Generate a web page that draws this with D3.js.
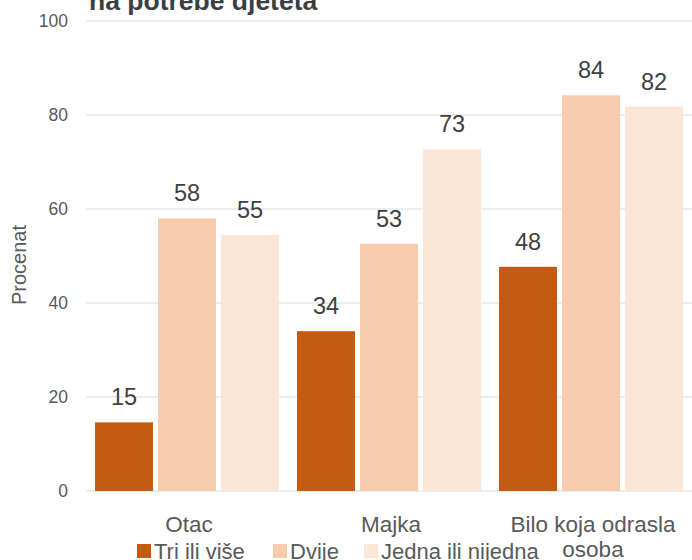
<!DOCTYPE html>
<html>
<head>
<meta charset="utf-8">
<script src="https://cdn.jsdelivr.net/npm/d3@7"></script>
<style>
  html, body { margin: 0; padding: 0; background: #fff; }
  svg { display: block; font-family: "Liberation Sans Narrow", "Liberation Sans", Arial, sans-serif; }
</style>
</head>
<body>
<div id="chart"></div>
<script>
// data
const categories = ['Otac', 'Majka', 'Bilo koja odrasla osoba'];
const seriesNames = ['Tri ili više', 'Dvije', 'Jedna ili nijedna'];
const triIliVise = [14.6, 34.0, 47.7];
const dvije = [58.0, 52.6, 84.2];
const jednaIliNijedna = [54.5, 72.7, 81.8];
const yTicks = [0, 20, 40, 60, 80, 100];
const colors = ['#C55A11', '#F8CBAD', '#FBE5D6'];

const W = 692, H = 560;
const margin = { top: 21, right: 0, bottom: 69, left: 86 };

const table = categories.map((c, i) => ({
  cat: c,
  vals: [triIliVise[i], dvije[i], jednaIliNijedna[i]]
}));

const svg = d3.select('#chart').append('svg')
  .attr('width', W).attr('height', H);

const x0 = d3.scaleBand().domain(categories)
  .range([margin.left, W - margin.right])
  .paddingInner(0).paddingOuter(0);
const x1 = d3.scaleBand().domain(seriesNames)
  .range([9, x0.bandwidth() - 9])
  .paddingInner(0.08);
const y = d3.scaleLinear().domain([0, 100]).range([H - margin.bottom, margin.top]);

// gridlines
svg.append('g')
  .selectAll('line').data(yTicks).join('line')
  .attr('x1', margin.left).attr('x2', W)
  .attr('y1', d => y(d)).attr('y2', d => y(d))
  .attr('stroke', '#D9D9D9').attr('stroke-width', 1);

// y axis labels
const yAxis = svg.append('g')
  .attr('transform', `translate(${margin.left},0)`)
  .call(d3.axisLeft(y).tickValues(yTicks).tickSize(0).tickPadding(18));
yAxis.select('.domain').remove();
yAxis.selectAll('text')
  .attr('font-family', '"Liberation Sans", Arial, sans-serif')
  .attr('font-size', 17.5).attr('fill', '#595959');

svg.append('text')
  .attr('transform', `translate(26,${(y(0) + y(100)) / 2 + 9}) rotate(-90)`)
  .attr('text-anchor', 'middle')
  .attr('font-family', '"Liberation Sans", Arial, sans-serif')
  .attr('font-size', 20).attr('fill', '#595959')
  .text('Procenat');

// bars
const groups = svg.append('g').selectAll('g').data(table).join('g')
  .attr('transform', d => `translate(${x0(d.cat)},0)`);

groups.selectAll('rect')
  .data(d => d.vals.map((v, j) => ({ key: seriesNames[j], v, j })))
  .join('rect')
  .attr('x', d => x1(d.key))
  .attr('width', x1.bandwidth())
  .attr('y', d => y(d.v))
  .attr('height', d => y(0) - y(d.v))
  .attr('fill', d => colors[d.j]);

groups.selectAll('text.val')
  .data(d => d.vals.map((v, j) => ({ key: seriesNames[j], v, j })))
  .join('text')
  .attr('class', 'val')
  .attr('x', d => x1(d.key) + x1.bandwidth() / 2)
  .attr('y', d => y(d.v) - 17)
  .attr('text-anchor', 'middle')
  .attr('font-family', '"Liberation Sans", Arial, sans-serif')
  .attr('font-size', 23.5).attr('fill', '#404040')
  .text(d => Math.round(d.v));

// x labels, wrapped to band width
const xl = svg.append('g').selectAll('text').data(categories).join('text')
  .attr('x', d => x0(d) + x0.bandwidth() / 2 + 2)
  .attr('y', 532)
  .attr('text-anchor', 'middle')
  .attr('font-size', 22.5).attr('fill', '#595959');
xl.each(function(d) {
  const el = d3.select(this);
  const words = d.split(' ');
  const lines = [];
  let line = [];
  const probe = el.append('tspan');
  words.forEach(w => {
    probe.text([...line, w].join(' '));
    if (line.length && probe.node().getComputedTextLength() > x0.bandwidth() - 20) {
      lines.push(line.join(' '));
      line = [w];
    } else line.push(w);
  });
  lines.push(line.join(' '));
  probe.remove();
  lines.forEach((l, i) => {
    el.append('tspan').attr('x', x0(d) + x0.bandwidth() / 2 + 2)
      .attr('dy', i ? 25 : 0).text(l);
  });
});

// legend
const legendX = [137, 273, 364];
const lg = svg.append('g').selectAll('g').data(seriesNames).join('g')
  .attr('transform', (d, i) => `translate(${legendX[i]},544)`);
lg.append('rect').attr('width', 14).attr('height', 14)
  .attr('fill', (d, i) => colors[i]);
lg.append('text').attr('x', 17).attr('y', 15)
  .attr('font-size', 22).attr('fill', '#595959')
  .text(d => d);

// title (cut off at top)
svg.append('text')
  .attr('x', 89).attr('y', 10)
  .attr('font-family', '"Liberation Sans", Arial, sans-serif')
  .attr('font-weight', 'bold').attr('font-size', 26.5)
  .attr('fill', '#3B3F45')
  .text('na potrebe djeteta');
</script>
</body>
</html>
